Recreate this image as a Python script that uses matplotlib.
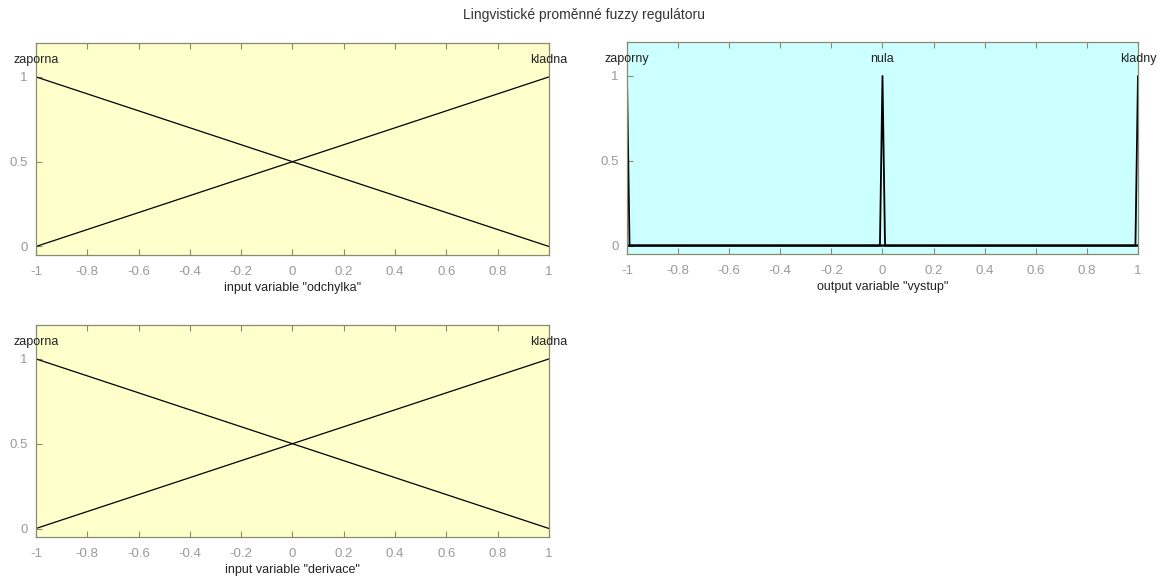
import matplotlib

matplotlib.use("Agg")
import matplotlib.pyplot as plt

plt.rcParams["font.family"] = ["Liberation Sans", "DejaVu Sans"]

TITLE = "Lingvistické proměnné fuzzy regulátoru"

# vstupy: dvě lineární funkce příslušnosti přes celý rozsah
IN_X = [-1.0, 1.0]
IN_ZAPORNA = [1.0, 0.0]
IN_KLADNA = [0.0, 1.0]
IN_NAMES = ["zaporna", "kladna"]
IN_PEAKS = [-1.0, 1.0]

# výstup: úzké trojúhelníky (trimf) [a, b, c]
OUT_NAMES = ["zaporny", "nula", "kladny"]
OUT_PARAMS = [[-1.01, -1.0, -0.99], [-0.01, 0.0, 0.01], [0.99, 1.0, 1.01]]

XTICKS = [-1, -0.8, -0.6, -0.4, -0.2, 0, 0.2, 0.4, 0.6, 0.8, 1]
XTICKLABELS = ["-1", "-0.8", "-0.6", "-0.4", "-0.2", "0", "0.2", "0.4", "0.6", "0.8", "1"]
YTICKS = [0, 0.5, 1]
YTICKLABELS = ["0", "0.5", "1"]

YELLOW = "#ffffcc"
CYAN = "#ccffff"
EDGE = "#8a8a70"
TICKC = "#9a9a9a"


def style_ax(ax, face, xlabel):
    ax.set_facecolor(face)
    ax.set_xlim(-1, 1)
    ax.set_ylim(-0.05, 1.2)
    ax.set_xticks(XTICKS)
    ax.set_xticklabels(XTICKLABELS)
    ax.set_yticks(YTICKS)
    ax.set_yticklabels(YTICKLABELS)
    ax.tick_params(direction="in", top=True, right=False, length=4, width=0.8,
                   color=EDGE, labelcolor=TICKC, labelsize=9.5)
    ax.tick_params(axis="x", pad=8)
    ax.tick_params(axis="y", pad=6)
    for s in ax.spines.values():
        s.set_color(EDGE)
        s.set_linewidth(0.9)
    ax.set_xlabel(xlabel, fontsize=9, color="#222222", labelpad=3)


def input_ax(ax, xlabel):
    style_ax(ax, YELLOW, xlabel)
    ax.plot(IN_X, IN_ZAPORNA, color="black", lw=0.9)
    ax.plot(IN_X, IN_KLADNA, color="black", lw=0.9)
    for name, px in zip(IN_NAMES, IN_PEAKS):
        ax.text(px, 1.1, name, ha="center", va="center", fontsize=9,
                color="#222222", clip_on=False)


fig = plt.figure(figsize=(11.68, 5.84), dpi=100)
fig.text(0.5, 0.975, TITLE, ha="center", va="center", fontsize=10, color="#333333")

ax1 = fig.add_axes([0.0308, 0.5634, 0.4392, 0.363])
input_ax(ax1, 'input variable "odchylka"')

ax3 = fig.add_axes([0.0308, 0.0805, 0.4392, 0.363])
input_ax(ax3, 'input variable "derivace"')

ax2 = fig.add_axes([0.5368, 0.565, 0.4375, 0.363])
style_ax(ax2, CYAN, 'output variable "vystup"')
for name, (a, b, c) in zip(OUT_NAMES, OUT_PARAMS):
    ax2.plot([-1, a, b, c, 1], [0, 0, 1, 0, 0], color="black", lw=1.3)
    ax2.text(b, 1.1, name, ha="center", va="center", fontsize=9,
             color="#222222", clip_on=False)

fig.savefig("out.png", dpi=100)
